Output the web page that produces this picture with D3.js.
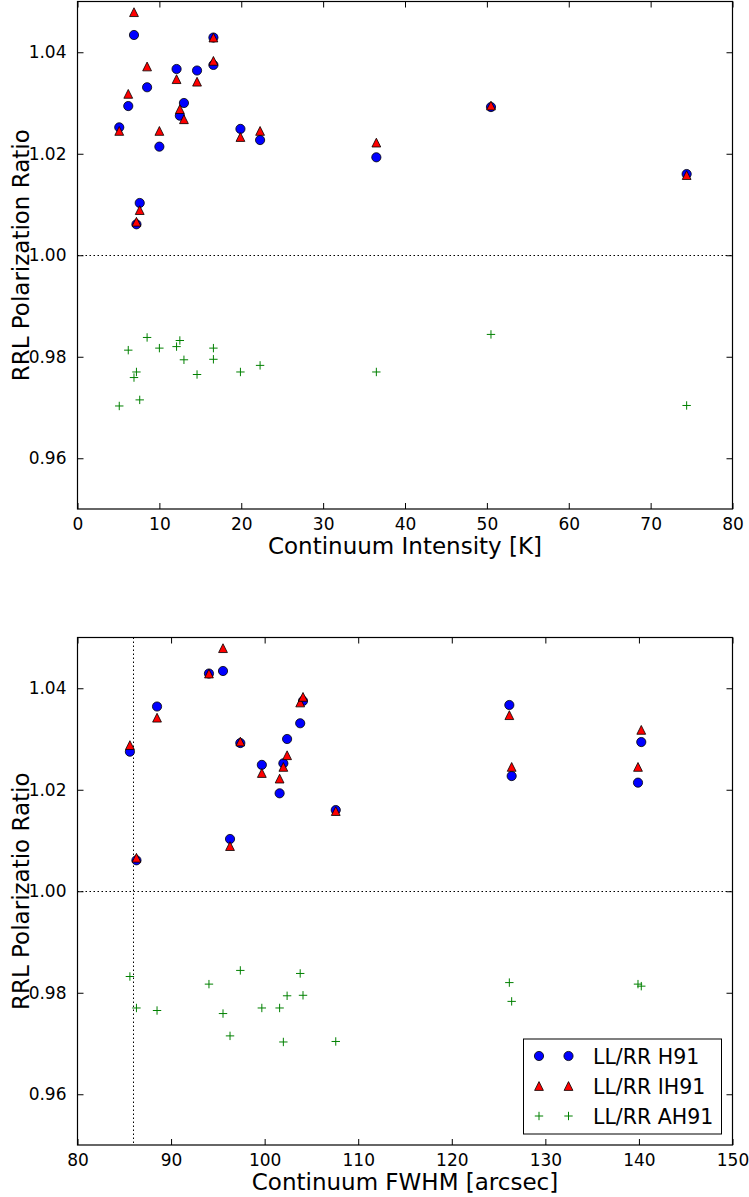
<!DOCTYPE html>
<html>
<head>
<meta charset="utf-8">
<script src="https://cdn.jsdelivr.net/npm/d3@7"></script>
<style>
  html, body { margin: 0; padding: 0; background: #fff; }
  svg { display: block; font-family: "DejaVu Sans", sans-serif; }
</style>
</head>
<body>
<svg id="chart" width="749" height="1197"></svg>
<script>
// ---- data (one entry per source) ----
const intensity = [5.1, 6.2, 6.9, 7.2, 7.6, 8.5, 10.0, 12.1, 12.5, 13.0, 14.6, 16.6, 16.6, 19.9, 22.3, 36.5, 50.5, 74.4];
const fwhm      = [102.0, 140.25, 95.55, 86.3, 96.3, 103.8, 139.9, 126.15, 85.6, 102.4, 88.5, 94.05, 104.1, 99.7, 126.4, 101.6, 97.4, 107.6];
const ratioH91  = [1.0252, 1.0294, 1.0434, 1.0061, 1.0103, 1.0331, 1.0214, 1.0367, 1.0275, 1.0300, 1.0364, 1.0429, 1.0375, 1.0249, 1.0227, 1.0193, 1.0292, 1.0160];
const ratioIH91 = [1.0245, 1.0318, 1.0479, 1.0066, 1.0089, 1.0372, 1.0245, 1.0347, 1.0288, 1.0268, 1.0342, 1.0429, 1.0383, 1.0233, 1.0245, 1.0222, 1.0295, 1.0158];
const ratioAH91 = [0.9703, 0.9813, 0.9759, 0.9770, 0.9715, 0.9838, 0.9817, 0.9820, 0.9832, 0.9794, 0.9765, 0.9817, 0.9795, 0.9770, 0.9783, 0.9770, 0.9844, 0.9704];

const yTicks = [0.96, 0.98, 1.00, 1.02, 1.04];
const xTicksTop = [0, 10, 20, 30, 40, 50, 60, 70, 80];
const xTicksBottom = [80, 90, 100, 110, 120, 130, 140, 150];
const seriesNames = ["LL/RR H91", "LL/RR IH91", "LL/RR AH91"];
const fwhmLimit = 85.9;

const svg = d3.select("#chart");
const left = 77.5, right = 732.5;

function triPath(s) {
  return `M0,${-s}L${s},${s}L${-s},${s}Z`;
}
function plusPath(s) {
  return `M${-s},0H${s}M0,${-s}V${s}`;
}

function drawMarker(g, kind, x, y) {
  if (kind === 0) {
    g.append("circle").attr("cx", x).attr("cy", y).attr("r", 4.6)
      .attr("fill", "#0000ff").attr("stroke", "#000").attr("stroke-width", 0.8);
  } else if (kind === 1) {
    g.append("path").attr("d", triPath(4.4)).attr("transform", `translate(${x},${y})`)
      .attr("fill", "#ff0000").attr("stroke", "#000").attr("stroke-width", 0.8);
  } else {
    g.append("path").attr("d", plusPath(4.2)).attr("transform", `translate(${x},${y})`)
      .attr("fill", "none").attr("stroke", "#008000").attr("stroke-width", 1);
  }
}

function panel(opts) {
  const {top, bottom, xDomain, xTicks, xs, xLabel, yLabel, vline, legend} = opts;
  const x = d3.scaleLinear().domain(xDomain).range([left, right]);
  const y = d3.scaleLinear().domain([0.95, 1.05]).range([bottom, top]);
  const g = svg.append("g");

  // reference lines (snapped to pixel grid so the dots stay crisp)
  const hy = Math.round(y(1.0)) + 0.5;
  g.append("line").attr("x1", left).attr("x2", right).attr("y1", hy).attr("y2", hy)
    .attr("stroke", "#000").attr("stroke-width", 1).attr("stroke-dasharray", "1.5,2.5");
  if (vline !== undefined) {
    const vx = Math.round(x(vline)) + 0.5;
    g.append("line").attr("x1", vx).attr("x2", vx).attr("y1", top).attr("y2", bottom)
      .attr("stroke", "#000").attr("stroke-width", 1).attr("stroke-dasharray", "1.5,2.5");
  }

  // data
  const series = [ratioH91, ratioIH91, ratioAH91];
  series.forEach((vals, k) => {
    const sg = g.append("g");
    vals.forEach((v, i) => drawMarker(sg, k, x(xs[i]), y(v)));
  });

  // axes with inward ticks on all sides
  const tl = 6;
  const axB = d3.axisBottom(x).tickValues(xTicks).tickSizeInner(-tl).tickSizeOuter(0).tickPadding(tl + 3).tickFormat(d3.format("d"));
  const axT = d3.axisTop(x).tickValues(xTicks).tickSizeInner(-tl).tickSizeOuter(0).tickFormat("");
  const axL = d3.axisLeft(y).tickValues(yTicks).tickSizeInner(-tl).tickSizeOuter(0).tickPadding(tl + 5).tickFormat(d3.format(".2f"));
  const axR = d3.axisRight(y).tickValues(yTicks).tickSizeInner(-tl).tickSizeOuter(0).tickFormat("");

  [[axB, `translate(0,${bottom})`], [axT, `translate(0,${top})`], [axL, `translate(${left},0)`], [axR, `translate(${right},0)`]]
    .forEach(([ax, tr]) => {
      const a = g.append("g").attr("transform", tr).call(ax);
      a.select(".domain").remove();
      a.selectAll("line").attr("stroke", "#000").attr("stroke-width", 1);
      a.selectAll("text").attr("font-size", 17).attr("fill", "#000").attr("font-family", "DejaVu Sans");
    });

  // frame
  g.append("rect").attr("x", left).attr("y", top).attr("width", right - left).attr("height", bottom - top)
    .attr("fill", "none").attr("stroke", "#000").attr("stroke-width", 1.2);

  // labels
  g.append("text").attr("x", (left + right) / 2).attr("y", bottom + 45).attr("text-anchor", "middle")
    .attr("font-size", 23).text(xLabel);
  g.append("text").attr("transform", `translate(29,${(top + bottom) / 2}) rotate(-90)`).attr("text-anchor", "middle")
    .attr("font-size", 23).text(yLabel);

  if (legend) {
    const lx = 523.5, ly = 1039, lw = 198, lh = 95;
    const lg = g.append("g");
    lg.append("rect").attr("x", lx).attr("y", ly).attr("width", lw).attr("height", lh)
      .attr("fill", "#fff").attr("stroke", "#000").attr("stroke-width", 1);
    seriesNames.forEach((name, k) => {
      const ry = 1056 + k * 30;
      drawMarker(lg, k, 539, ry);
      drawMarker(lg, k, 568.5, ry);
      lg.append("text").attr("x", 593).attr("y", ry + 7.5).attr("font-size", 20.5).text(name);
    });
  }
}

panel({top: 1.5, bottom: 509, xDomain: [0, 80], xTicks: xTicksTop, xs: intensity,
       xLabel: "Continuum Intensity [K]", yLabel: "RRL Polarization Ratio"});
panel({top: 637.5, bottom: 1145, xDomain: [80, 150], xTicks: xTicksBottom, xs: fwhm,
       xLabel: "Continuum FWHM [arcsec]", yLabel: "RRL Polarizatio Ratio", vline: fwhmLimit, legend: true});
</script>
</body>
</html>
